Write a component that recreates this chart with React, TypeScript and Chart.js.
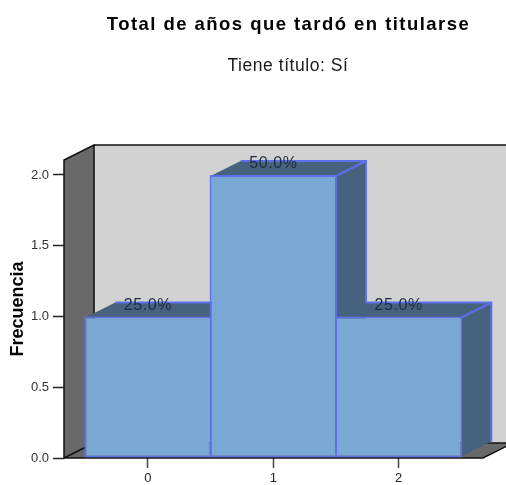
import React, { useEffect, useRef } from "react";
import { Chart, registerables } from "chart.js";

Chart.register(...registerables);

const chartTitle = "Total de años que tardó en titularse";
const chartSubtitle = "Tiene título: Sí";
const yTitle = "Frecuencia";
const years = [0, 1, 2];
const counts = [1, 2, 1];
const percents = ["25.0%", "50.0%", "25.0%"];
const yTicks = [0, 0.5, 1, 1.5, 2];

const DX = 30;
const DY = 15;
const FONT = "'Liberation Sans', Arial, sans-serif";

const poly = (ctx: CanvasRenderingContext2D, pts: number[][], close = true) => {
  ctx.beginPath();
  pts.forEach(([x, y], i) => (i ? ctx.lineTo(x, y) : ctx.moveTo(x, y)));
  if (close) ctx.closePath();
};

const scenePlugin = {
  id: "scene3d",
  beforeDatasetsDraw(chart: any) {
    const { ctx, chartArea: a } = chart;
    const { left: l, right: r, top: t, bottom: b } = a;
    ctx.save();
    ctx.fillStyle = "#d2d2d2";
    ctx.fillRect(l + DX, t - DY, r - l, b - t);
    ctx.fillStyle = "#696969";
    poly(ctx, [[l, t], [l + DX, t - DY], [l + DX, b - DY], [l, b]]);
    ctx.fill();
    poly(ctx, [[l, b], [r, b], [r + DX, b - DY], [l + DX, b - DY]]);
    ctx.fill();
    ctx.strokeStyle = "#101010";
    ctx.lineWidth = 1.5;
    poly(ctx, [[l, b], [l, t], [l + DX, t - DY], [l + DX, b - DY], [l, b]], false);
    ctx.stroke();
    poly(ctx, [[l + DX, t - DY], [r + DX + 5, t - DY]], false);
    ctx.stroke();
    poly(ctx, [[l + DX, b - DY], [r + DX, b - DY], [r, b], [l, b]], false);
    ctx.stroke();
    const meta = chart.getDatasetMeta(0);
    meta.data.forEach((bar: any) => {
      const x0 = bar.x - bar.width / 2 + 1;
      const x1 = bar.x + bar.width / 2 - 1;
      const y0 = bar.y + 1;
      const y1 = bar.base - 1;
      ctx.fillStyle = "#47627f";
      poly(ctx, [[x0, y0], [x0 + DX, y0 - DY], [x1 + DX, y0 - DY], [x1, y0]]);
      ctx.fill();
      poly(ctx, [[x1, y0], [x1 + DX, y0 - DY], [x1 + DX, y1 - DY], [x1, y1]]);
      ctx.fill();
      ctx.strokeStyle = "#5c70ea";
      ctx.lineWidth = 2;
      poly(ctx, [[x0 + DX, y0 - DY], [x1 + DX, y0 - DY], [x1 + DX, y1 - DY]], false);
      ctx.stroke();
      poly(ctx, [[x1, y0], [x1 + DX, y0 - DY]], false);
      ctx.stroke();
    });
    ctx.restore();
  },
  afterDatasetsDraw(chart: any) {
    const { ctx } = chart;
    ctx.save();
    ctx.textAlign = "center";
    ctx.textBaseline = "middle";
    ctx.fillStyle = "#1e2d3e";
    ctx.font = `16px ${FONT}`;
    (ctx as any).letterSpacing = "0.6px";
    chart.getDatasetMeta(0).data.forEach((bar: any, i: number) => {
      ctx.fillText(percents[i], bar.x, bar.y - 11);
    });
    ctx.fillStyle = "#000";
    ctx.font = `bold 18.5px ${FONT}`;
    (ctx as any).letterSpacing = "1.45px";
    ctx.fillText(chartTitle, 288.5, 24.5);
    ctx.fillStyle = "#1a1a1a";
    ctx.font = `17.5px ${FONT}`;
    (ctx as any).letterSpacing = "0.55px";
    ctx.fillText(chartSubtitle, 288, 66.5);
    ctx.restore();
  },
};

export default function App() {
  const ref = useRef<HTMLCanvasElement>(null);
  useEffect(() => {
    const chart = new Chart(ref.current!, {
      type: "bar",
      data: {
        datasets: [
          {
            data: years.map((x, i) => ({ x, y: counts[i] })),
            backgroundColor: "#7aa8d4",
            borderColor: "#5c70ea",
            borderWidth: 2,
            borderSkipped: false,
            barPercentage: 1.016,
            categoryPercentage: 1,
          },
        ],
      },
      options: {
        animation: false,
        responsive: false,
        layout: { padding: { top: 160, left: 0, right: 23, bottom: 0 } },
        plugins: { legend: { display: false }, tooltip: { enabled: false }, title: { display: false } },
        scales: {
          x: {
            type: "linear",
            offset: false,
            min: -0.67,
            max: 2.673,
            afterBuildTicks: (s: any) => {
              s.ticks = years.map((value) => ({ value }));
            },
            afterFit: (s: any) => {
              s.height = 27;
            },
            grid: { offset: false, drawOnChartArea: false, drawTicks: true, tickLength: 10, tickColor: "#444", tickWidth: 1.5 },
            border: { display: false },
            ticks: { color: "#222", font: { family: FONT, size: 13 }, padding: 3, maxRotation: 0, callback: (v: any) => String(v) },
          },
          y: {
            min: 0,
            max: 2.106,
            afterBuildTicks: (s: any) => {
              s.ticks = yTicks.map((value) => ({ value }));
            },
            afterFit: (s: any) => {
              s.width = 64;
            },
            grid: { drawOnChartArea: false, drawTicks: true, tickLength: 11, tickColor: "#222", tickWidth: 1.5 },
            border: { display: false },
            title: { display: true, text: yTitle, color: "#000", font: { family: FONT, size: 18, weight: "bold" }, padding: { top: 7, bottom: 0 } },
            ticks: { color: "#333", font: { family: FONT, size: 13 }, padding: 4, callback: (v: any) => Number(v).toFixed(1) },
          },
        },
      },
      plugins: [scenePlugin],
    } as any);
    return () => chart.destroy();
  }, []);
  return (
    <div style={{ position: "fixed", left: 0, top: 0, width: 506, height: 485, background: "#fff" }}>
      <canvas ref={ref} width={506} height={485} style={{ display: "block" }} />
    </div>
  );
}
